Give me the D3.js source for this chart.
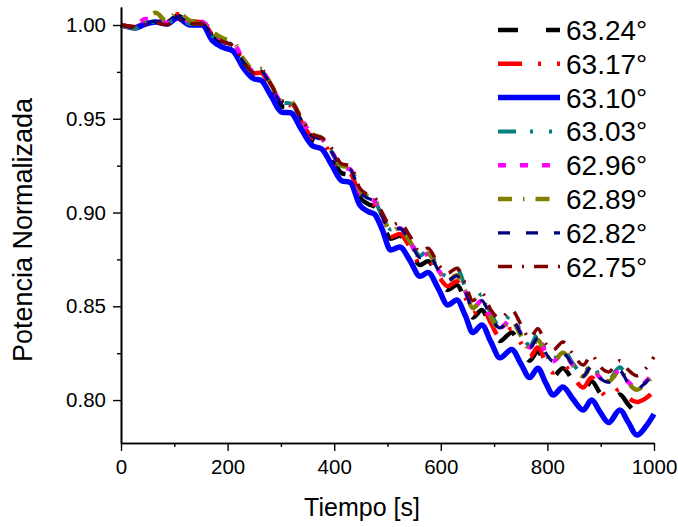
<!DOCTYPE html>
<html><head><meta charset="utf-8">
<script src="https://cdn.jsdelivr.net/npm/d3@7"></script>
<style>body{margin:0;background:#fff}svg{display:block}text{font-family:"Liberation Sans",Arial,sans-serif;fill:#000}</style>
</head><body><svg id="c" width="678" height="527"></svg>
<script>
const tiempo = [0,26,45,65,86,106,130,152,172,192,210,230,250,262,282,302,318,338,360,376,396,414,430,448,464,476,490,506,523,542,561,576,596,613,630,646,660,677,694,711,733,750,767,782,797,811,829,848,867,883,898,915,936,952,968,985,1000];

const s6324 = [1.0000,0.9986,1.0010,1.0030,1.0015,1.0050,1.0015,1.0012,
 0.9935,0.9900,0.9882,0.9790,0.9732,
 0.9736,0.9650,0.9565,0.9562,0.9475,0.9385,0.9370,
 0.9290,0.9210,0.9200,0.9080,0.9045,0.9030,0.8950,
 0.8860,0.8876,0.8805,0.8720,0.8740,0.8650,
 0.8587,0.8613,0.8530,0.8440,0.8480,0.8390,
 0.8315,0.8360,0.8285,0.8210,0.8260,0.8180,
 0.8127,0.8170,0.8105,0.8047,0.8100,0.8040,
 0.7980,0.8030,0.7975,0.7935,0.7945,0.7975];
const s6317 = [1.0000,0.9988,1.0012,1.0028,1.0020,1.0058,1.0020,1.0015,
 0.9945,0.9912,0.9890,0.9802,0.9742,
 0.9746,0.9660,0.9575,0.9572,0.9485,0.9395,0.9380,
 0.9300,0.9220,0.9210,0.9090,0.9055,0.9040,0.8960,
 0.8870,0.8886,0.8815,0.8730,0.8750,0.8660,
 0.8607,0.8633,0.8550,0.8460,0.8500,0.8410,
 0.8335,0.8380,0.8305,0.8230,0.8280,0.8200,
 0.8147,0.8190,0.8125,0.8067,0.8120,0.8060,
 0.8010,0.8060,0.8010,0.7990,0.8010,0.8050];
const s6310 = [1.0000,0.9984,1.0004,1.0016,1.0005,1.0037,1.0000,1.0000,
 0.9915,0.9880,0.9862,0.9770,0.9712,
 0.9706,0.9620,0.9535,0.9532,0.9445,0.9355,0.9340,
 0.9250,0.9170,0.9160,0.9040,0.9005,0.8990,0.8910,
 0.8800,0.8816,0.8745,0.8660,0.8680,0.8590,
 0.8507,0.8533,0.8450,0.8360,0.8400,0.8310,
 0.8225,0.8270,0.8195,0.8120,0.8170,0.8090,
 0.8027,0.8070,0.8005,0.7947,0.8000,0.7940,
 0.7880,0.7947,0.7880,0.7813,0.7860,0.7925];
const s6303 = [1.0000,0.9982,1.0006,1.0018,1.0008,1.0040,1.0005,1.0008,
 0.9940,0.9910,0.9895,0.9800,0.9745,
 0.9756,0.9670,0.9585,0.9582,0.9495,0.9405,0.9390,
 0.9320,0.9240,0.9230,0.9110,0.9075,0.9060,0.8980,
 0.8910,0.8935,0.8855,0.8770,0.8800,0.8700,
 0.8657,0.8705,0.8600,0.8510,0.8565,0.8460,
 0.8395,0.8455,0.8365,0.8290,0.8350,0.8260,
 0.8217,0.8270,0.8195,0.8137,0.8200,0.8130,
 0.8110,0.8175,0.8100,0.8060,0.8095,0.8130];
const s6296 = [1.0000,0.9990,1.0032,1.0025,1.0012,1.0048,1.0018,1.0018,
 0.9958,0.9920,0.9905,0.9812,0.9750,
 0.9761,0.9675,0.9590,0.9590,0.9500,0.9410,0.9395,
 0.9320,0.9240,0.9230,0.9110,0.9075,0.9060,0.8980,
 0.8900,0.8916,0.8845,0.8760,0.8780,0.8690,
 0.8637,0.8663,0.8580,0.8490,0.8530,0.8440,
 0.8385,0.8430,0.8355,0.8280,0.8330,0.8250,
 0.8207,0.8250,0.8185,0.8127,0.8180,0.8120,
 0.8100,0.8160,0.8095,0.8065,0.8100,0.8150];
const s6289 = [1.0000,0.9988,1.0020,1.0065,1.0020,1.0068,1.0022,1.0015,
 0.9962,0.9928,0.9912,0.9818,0.9760,
 0.9766,0.9680,0.9595,0.9592,0.9505,0.9415,0.9400,
 0.9330,0.9250,0.9240,0.9120,0.9085,0.9070,0.8990,
 0.8900,0.8920,0.8845,0.8760,0.8782,0.8690,
 0.8637,0.8665,0.8580,0.8490,0.8532,0.8440,
 0.8375,0.8422,0.8345,0.8270,0.8322,0.8240,
 0.8207,0.8252,0.8185,0.8127,0.8182,0.8120,
 0.8100,0.8160,0.8090,0.8055,0.8090,0.8135];
const s6282 = [1.0000,0.9986,1.0008,1.0020,1.0010,1.0042,1.0010,1.0008,
 0.9942,0.9908,0.9892,0.9800,0.9742,
 0.9756,0.9670,0.9585,0.9582,0.9495,0.9405,0.9390,
 0.9320,0.9240,0.9230,0.9110,0.9075,0.9060,0.8980,
 0.8900,0.8916,0.8845,0.8760,0.8780,0.8690,
 0.8637,0.8663,0.8580,0.8490,0.8530,0.8440,
 0.8385,0.8430,0.8355,0.8280,0.8330,0.8250,
 0.8207,0.8250,0.8185,0.8127,0.8180,0.8120,
 0.8095,0.8155,0.8090,0.8060,0.8095,0.8140];
const s6275 = [1.0000,0.9992,1.0000,1.0012,1.0002,1.0030,1.0008,1.0005,
 0.9948,0.9910,0.9890,0.9805,0.9745,
 0.9766,0.9680,0.9595,0.9592,0.9505,0.9415,0.9400,
 0.9340,0.9260,0.9250,0.9130,0.9095,0.9080,0.9000,
 0.8930,0.8946,0.8875,0.8790,0.8810,0.8720,
 0.8677,0.8703,0.8620,0.8530,0.8570,0.8480,
 0.8435,0.8480,0.8405,0.8330,0.8380,0.8300,
 0.8267,0.8310,0.8245,0.8187,0.8240,0.8180,
 0.8150,0.8210,0.8160,0.8130,0.8170,0.8230];

const etiquetas = ["63.24°","63.17°","63.10°","63.03°","62.96°","62.89°","62.82°","62.75°"];
const xTicks = [0,200,400,600,800,1000];
const xMinor = [100,300,500,700,900];
const yTicks = [0.80,0.85,0.90,0.95,1.00];
const yMinor = [0.825,0.875,0.925,0.975];

const series = [s6324,s6317,s6310,s6303,s6296,s6289,s6282,s6275];
const styles = [
  {c:"#000000", w:4.5, d:"20,28"},
  {c:"#ff0000", w:4.5, d:"24,16,3,16,3,16"},
  {c:"#0000ff", w:5.5, d:null},
  {c:"#008080", w:4, d:"18,14,3,16,3,16"},
  {c:"#ff00ff", w:4.5, d:"8,14"},
  {c:"#808000", w:4.5, d:"14,11,1.5,11"},
  {c:"#000080", w:3.2, d:"12,16"},
  {c:"#800000", w:3.5, d:"14,10,2,10"}
];

const svg = d3.select("#c");
const x = d3.scaleLinear().domain([0,1000]).range([121,654]);
const y = d3.scaleLinear().domain([0.7771,1.0096]).range([443,7]);

const line = d3.line().x(d=>x(d[0])).y(d=>y(d[1])).curve(d3.curveMonotoneX);

series.forEach((s,i)=>{
  const pts = tiempo.map((t,j)=>[t,s[j]]);
  const st = styles[i];
  svg.append("path").attr("d",line(pts)).attr("fill","none")
    .attr("stroke",st.c).attr("stroke-width",st.w)
    .attr("stroke-linejoin","round")
    .attr("stroke-dasharray",st.d);
});

// axes
const gx = svg.append("g").attr("transform","translate(0,443)");
gx.call(d3.axisBottom(x).tickValues(xTicks).tickSize(8).tickSizeOuter(0).tickPadding(8).tickFormat(d3.format("d")));
gx.append("g").call(d3.axisBottom(x).tickValues(xMinor).tickSize(4).tickSizeOuter(0).tickFormat(""));
const gy = svg.append("g").attr("transform","translate(121,0)");
gy.call(d3.axisLeft(y).tickValues(yTicks).tickSize(8).tickSizeOuter(0).tickPadding(7).tickFormat(d3.format(".2f")));
gy.append("g").call(d3.axisLeft(y).tickValues(yMinor).tickSize(4).tickSizeOuter(0).tickFormat(""));
svg.selectAll(".domain").attr("stroke","#000").attr("stroke-width",1.6);
svg.selectAll(".tick line").attr("stroke","#000").attr("stroke-width",1.4);
svg.selectAll(".tick text").attr("font-size",20.5).attr("font-family","Liberation Sans, Arial, sans-serif").attr("fill","#000");

// titles
svg.append("text").attr("x",362).attr("y",516).attr("text-anchor","middle").attr("font-size",25).text("Tiempo [s]");
svg.append("text").attr("transform","translate(32,230) rotate(-90)").attr("text-anchor","middle").attr("font-size",27).text("Potencia Normalizada");

// legend
const lg = svg.append("g");
etiquetas.forEach((lab,i)=>{
  const yy = 30 + 33.8*i;
  const st = styles[i];
  lg.append("line").attr("x1",498).attr("x2",560).attr("y1",yy).attr("y2",yy)
    .attr("stroke",st.c).attr("stroke-width",st.w).attr("stroke-dasharray",st.d);
  lg.append("text").attr("x",566).attr("y",yy).attr("dy","0.36em").attr("font-size",28).text(lab);
});
</script></body></html>
